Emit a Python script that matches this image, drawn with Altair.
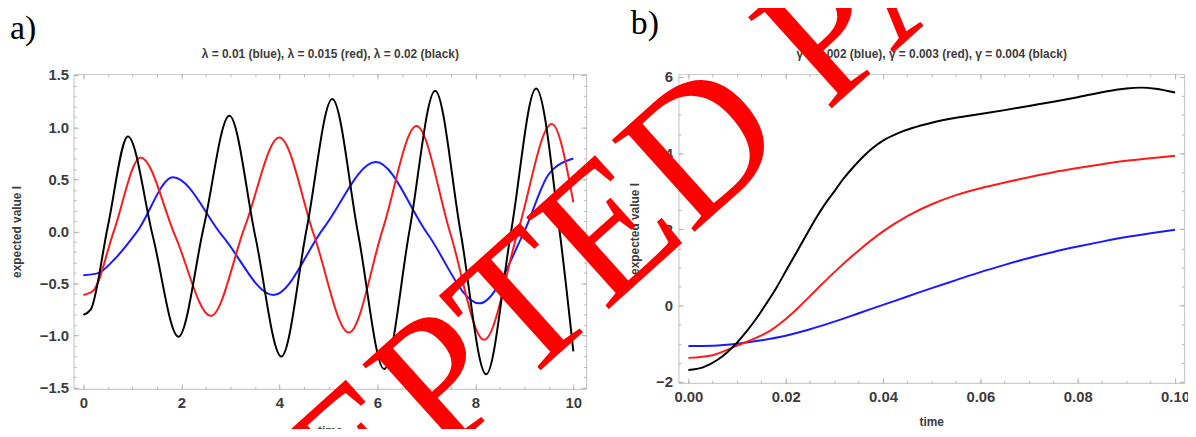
import altair as alt
import pandas as pd

W, H = 1188, 421

# ---------------- panel a : lambda curves ----------------
a_black_t = [0, 0.15, 0.5, 0.91, 1.42, 1.94, 2.46, 2.98, 3.51, 4.04, 4.56, 5.08, 5.61, 6.14, 6.66, 7.18, 7.70, 8.22, 8.73, 9.24, 9.72, 10.0]
a_black_v = [-0.80, -0.75, 0.05, 0.91, -0.05, -1.01, 0.05, 1.11, -0.05, -1.20, 0.03, 1.27, -0.03, -1.32, 0.02, 1.35, -0.01, -1.37, 0.0, 1.37, 0.0, -1.15]
a_red_t = [0, 0.2, 0.62, 1.17, 1.88, 2.6, 3.3, 4.0, 4.71, 5.42, 6.11, 6.8, 7.49, 8.18, 8.87, 9.56, 10.0]
a_red_v = [-0.61, -0.57, 0.0, 0.71, -0.05, -0.81, 0.05, 0.90, -0.04, -0.97, 0.02, 1.01, -0.02, -1.04, 0.0, 1.03, 0.28]
a_blue_t = [0, 0.3, 0.63, 1.1, 1.83, 2.85, 3.88, 4.9, 5.97, 7.02, 8.08, 9.0, 9.5, 10.0]
a_blue_v = [-0.42, -0.40, -0.27, 0.0, 0.52, -0.05, -0.61, 0.03, 0.665, -0.02, -0.69, 0.0, 0.55, 0.70]

# ---------------- panel b : gamma curves ----------------
b_black_t = [0, 0.003, 0.006, 0.008, 0.01, 0.012, 0.014, 0.016, 0.018, 0.02, 0.022, 0.024, 0.026, 0.028, 0.03, 0.032, 0.034, 0.036, 0.038, 0.04, 0.043, 0.046, 0.05, 0.055, 0.06, 0.065, 0.07, 0.075, 0.08, 0.085, 0.09, 0.093, 0.096, 0.1]
b_black_v = [-1.69, -1.62, -1.42, -1.22, -0.97, -0.67, -0.33, 0.05, 0.45, 0.9, 1.35, 1.8, 2.25, 2.65, 3.0, 3.35, 3.65, 3.92, 4.15, 4.33, 4.52, 4.66, 4.8, 4.93, 5.03, 5.13, 5.24, 5.35, 5.47, 5.6, 5.7, 5.72, 5.69, 5.59]
b_red_t = [0, 0.005, 0.01, 0.014, 0.017, 0.02, 0.023, 0.026, 0.03, 0.035, 0.04, 0.045, 0.05, 0.055, 0.06, 0.065, 0.07, 0.075, 0.08, 0.085, 0.09, 0.095, 0.1]
b_red_v = [-1.37, -1.3, -1.05, -0.84, -0.64, -0.35, 0.0, 0.38, 0.88, 1.45, 1.95, 2.35, 2.66, 2.9, 3.08, 3.23, 3.37, 3.5, 3.61, 3.71, 3.8, 3.87, 3.93]
b_blue_t = [0, 0.005, 0.01, 0.015, 0.02, 0.025, 0.03, 0.035, 0.04, 0.045, 0.05, 0.055, 0.06, 0.065, 0.07, 0.075, 0.08, 0.085, 0.09, 0.095, 0.1]
b_blue_v = [-1.06, -1.05, -1.0, -0.91, -0.79, -0.62, -0.42, -0.2, 0.02, 0.24, 0.46, 0.67, 0.88, 1.07, 1.25, 1.41, 1.55, 1.68, 1.8, 1.9, 1.99]

a_x_major = [0, 2, 4, 6, 8, 10]
a_x_minor = [i * 0.5 for i in range(21)]
a_y_major = [-1.5, -1.0, -0.5, 0.0, 0.5, 1.0, 1.5]
a_y_minor = [round(-1.5 + i * 0.1, 2) for i in range(31)]
b_x_major = [0, 0.02, 0.04, 0.06, 0.08, 0.1]
b_x_minor = [round(i * 0.005, 3) for i in range(21)]
b_y_major = [-2, 0, 2, 4, 6]
b_y_minor = [-2 + i * 0.5 for i in range(17)]

title_a = "λ = 0.01 (blue), λ = 0.015 (red), λ = 0.02 (black)"
title_b = "γ = 0.002 (blue), γ = 0.003 (red), γ = 0.004 (black)"
ytitle = "expected value I"
xtitle = "time"
watermark = "ACCEPTED PAPER"


def frame_df(series):
    rows = []
    for name, ts, vs in series:
        for t, v in zip(ts, vs):
            rows.append({"t": t, "v": v, "s": name})
    return pd.DataFrame(rows)


dfa = frame_df([("blue", a_blue_t, a_blue_v), ("red", a_red_t, a_red_v), ("black", a_black_t, a_black_v)])
dfb = frame_df([("blue", b_blue_t, b_blue_v), ("red", b_red_t, b_red_v), ("black", b_black_t, b_black_v)])

color_scale = alt.Scale(domain=["blue", "red", "black"], range=["#1a1aff", "#ff1a1a", "#000000"])

FONT = "Liberation Sans"
TXT = "#3c3c3c"
FRAME = "#cccccc"
TICK = "#b4b4b4"
MT, mt = 5, 2.5


def frame_axis(orient, offset, title="", pad=0):
    return alt.Axis(orient=orient, offset=offset, domain=True, domainColor=FRAME, domainWidth=1.2,
                    ticks=False, labels=False, grid=False, title=title, titlePadding=pad,
                    titleFont=FONT, titleFontWeight="bold", titleColor=TXT, titleFontSize=12)


def tick_axis(orient, offset, values, size, labels=False, fmt="", lpad=0):
    kw = dict(orient=orient, offset=offset, domain=False, ticks=True, tickSize=size, tickColor=TICK,
              tickWidth=1, values=values, labels=labels, grid=False, title="")
    if labels:
        kw.update(labelFont=FONT, labelFontWeight="bold", labelColor=TXT, labelFontSize=15,
                  labelPadding=lpad, format=fmt, labelOverlap=False)
    return alt.Axis(**kw)


def layer(df, xs, ys, xa, ya, visible):
    mark = alt.Chart(df).mark_line(strokeWidth=2, interpolate="monotone", opacity=1 if visible else 0)
    enc = dict(x=alt.X("t:Q", scale=xs, axis=xa), y=alt.Y("v:Q", scale=ys, axis=ya), detail="s:N")
    if visible:
        enc["color"] = alt.Color("s:N", scale=color_scale, legend=None)
    return mark.encode(**enc)


def panel(df, box, xdom, ydom, xmaj, xmin, ymaj, ymin, xfmt, yfmt, title, ytpad, xtpad, xlpad, ylpad):
    left, right, top, bottom = box
    xs = alt.Scale(domain=xdom, range=[left, right], nice=False, zero=False)
    ys = alt.Scale(domain=ydom, range=[bottom, top], nice=False, zero=False)
    return [
        layer(df, xs, ys, frame_axis("bottom", bottom - H, xtitle, xtpad),
              frame_axis("left", -left, ytitle, ytpad), True),
        layer(df, xs, ys, frame_axis("top", -top, title, 14), frame_axis("right", right - W), False),
        layer(df, xs, ys, tick_axis("bottom", bottom - MT - H, xmaj, MT, True, xfmt, xlpad),
              tick_axis("left", -(left + MT), ymaj, MT, True, yfmt, ylpad), False),
        layer(df, xs, ys, tick_axis("top", -(top + MT), xmaj, MT), tick_axis("right", right - MT - W, ymaj, MT), False),
        layer(df, xs, ys, tick_axis("bottom", bottom - mt - H, xmin, mt), tick_axis("left", -(left + mt), ymin, mt), False),
        layer(df, xs, ys, tick_axis("top", -(top + mt), xmin, mt), tick_axis("right", right - mt - W, ymin, mt), False),
    ]


layers = []
layers += panel(dfa, (66, 582, 65, 382), [-0.2, 10.26], [-1.51, 1.51], a_x_major, a_x_minor, a_y_major, a_y_minor,
                "d", ".1f", title_a, 50, 37, 7, 5)
layers += panel(dfb, (675, 1184, 65, 376), [-0.00204, 0.10184], [-2.026, 6.078], b_x_major, b_x_minor, b_y_major, b_y_minor,
                ".2f", "d", title_b, 37, 34, 7, 6)

labels_df = pd.DataFrame({"lab": ["a)"]})
labels_df_b = pd.DataFrame({"lab": ["b)"]})
lab_a = alt.Chart(labels_df).mark_text(font="Liberation Serif", fontSize=34, align="left", baseline="alphabetic",
                                       color="#000000").encode(x=alt.value(2), y=alt.value(30), text="lab:N")
lab_b = alt.Chart(labels_df_b).mark_text(font="Liberation Serif", fontSize=34, align="left", baseline="alphabetic",
                                         color="#000000").encode(x=alt.value(627), y=alt.value(25), text="lab:N")
wm_df = pd.DataFrame({"lab": [watermark]})
wm = alt.Chart(wm_df).mark_text(font="Liberation Serif", fontSize=190, align="center", baseline="middle",
                                angle=318, color="#ff0000").encode(x=alt.value(617), y=alt.value(214), text="lab:N")

chart = alt.layer(*layers, lab_a, lab_b, wm).resolve_scale(x="independent", y="independent").resolve_axis(
    x="independent", y="independent").properties(
    width=W, height=H, padding=0, autosize=alt.AutoSizeParams(type="none")
).configure_view(stroke=None)

chart.save("out.html", embed_options={"renderer": "svg", "actions": False})
